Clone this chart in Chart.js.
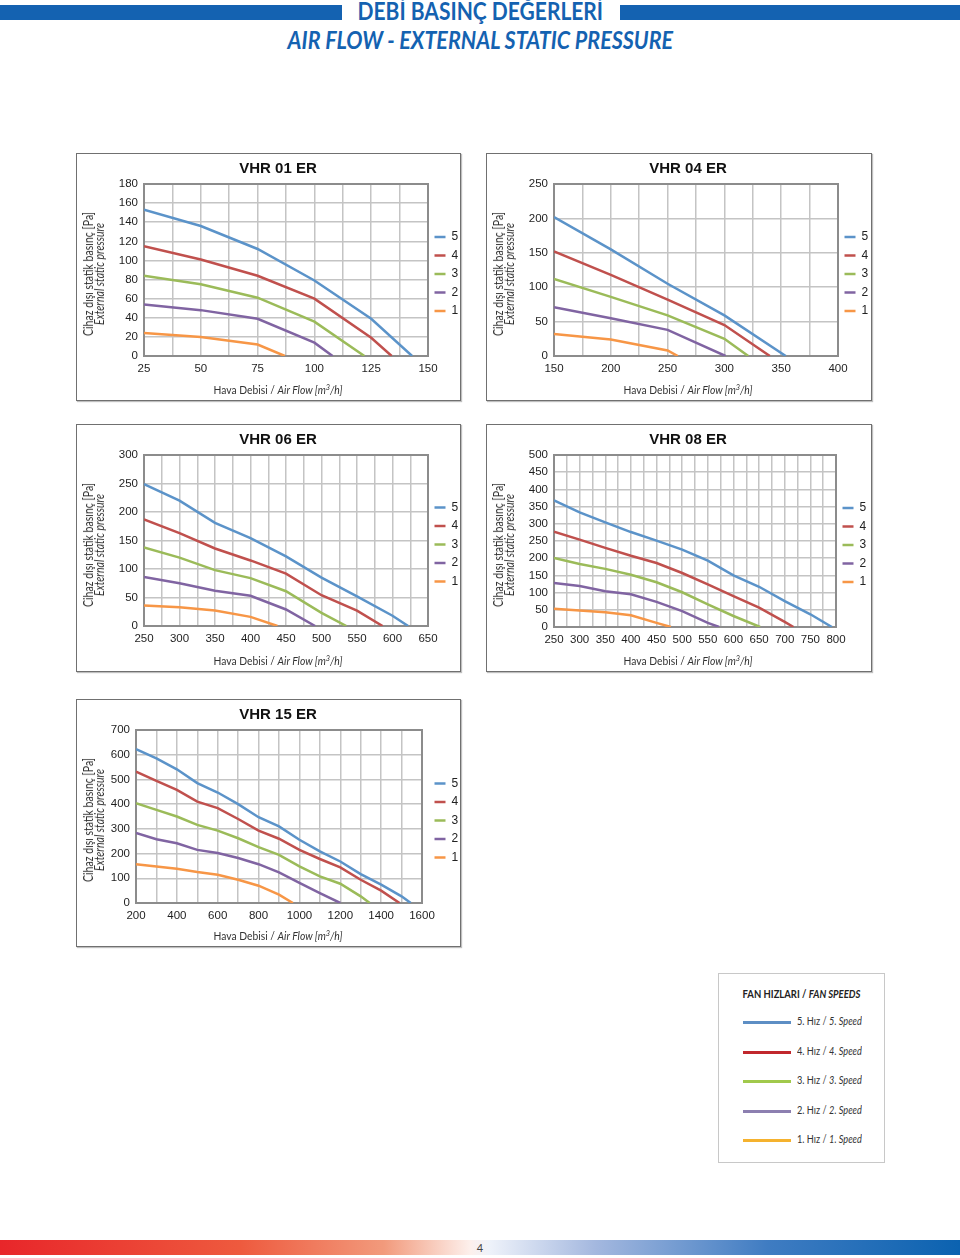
<!DOCTYPE html>
<html lang="tr">
<head>
<meta charset="utf-8">
<title>Debi Basınç Değerleri</title>
<script src="https://cdn.jsdelivr.net/npm/chart.js@4.4.1/dist/chart.umd.min.js"></script>
<style>
  body { margin: 0; background: #fff; }
  #page { position: relative; width: 960px; height: 1258px; overflow: hidden; font-family: 'Lato', 'Open Sans', sans-serif; color: #333; }
  .bar { position: absolute; top: 5px; height: 15px; background: #1462b1; }
  .head { position: absolute; left: 0; width: 960px; text-align: center; color: #1462b1; font-weight: 700; font-size: 24px; line-height: 24px; white-space: nowrap; }
  .head span { display: inline-block; }
  .box { position: absolute; width: 383px; height: 246px; border: 1px solid #707070; box-shadow: 1px 1px 1px rgba(0,0,0,.25); background: #fff; }
  .box.wide { width: 384px; }
  .box canvas { position: absolute; left: 0; top: 0; }
  .ctitle { position: absolute; left: 201px; top: 5px; line-height: 18px; font: bold 15px 'Liberation Sans', Arial, sans-serif; color: #111; white-space: nowrap; transform: translateX(-50%); }
  .ytitle { position: absolute; left: 17px; top: 120px; transform: translate(-50%, -50%) rotate(-90deg) scaleX(.845); text-align: center; white-space: nowrap; font-size: 12.5px; line-height: 11px; color: #333; }
  .xtitle { position: absolute; left: 201px; top: 228px; transform: translateX(-50%) scaleX(.86); white-space: nowrap; font-size: 12px; line-height: 16px; color: #333; }
  .xtitle sup { font-size: 8.5px; line-height: 0; vertical-align: 4px; }
  .fans { position: absolute; left: 718px; top: 973px; width: 165px; height: 188px; border: 1px solid #c8c8c8; }
  .fans .t { position: absolute; left: 0; width: 165px; top: 13px; text-align: center; font-weight: 700; font-size: 11px; line-height: 14px; color: #222; white-space: nowrap; }
  .fans .t span { display: inline-block; transform: scaleX(.86); }
  .fans .row { position: absolute; left: 24px; height: 14px; line-height: 14px; font-size: 11.5px; color: #333; white-space: nowrap; }
  .fans .row b { display: inline-block; width: 48px; height: 3px; vertical-align: middle; margin-right: 6px; }
  .fans .row span { display: inline-block; transform: scaleX(.8); transform-origin: left center; }
  .foot { position: absolute; left: 0; top: 1240px; width: 960px; height: 15px;
          background: linear-gradient(to right, #e8262a 0%, #ee5a3e 25%, #f29a7c 40%, #fdf0ec 49%, #eef2fa 51%, #a4b8df 62%, #3f7cc2 80%, #0b62b0 100%); }
  .pageno { position: absolute; left: 0; width: 960px; top: 1241px; text-align: center; font-size: 11px; line-height: 14px; color: #444; }
</style>
</head>
<body>
<div id="page">
  <div class="bar" style="left:0;width:342px"></div>
  <div class="bar" style="left:620px;width:340px"></div>
  <div class="head" style="top:-1px"><span style="transform:scaleX(.875)">DEBİ BASINÇ DEĞERLERİ</span></div>
  <div class="head" style="top:28px;font-style:italic"><span style="transform:scaleX(.895)">AIR FLOW - EXTERNAL STATIC PRESSURE</span></div>

  <div class="box" style="left:76px;top:153px">
    <canvas id="chartVhr01" width="383" height="246"></canvas>
    <div class="ctitle">VHR 01 ER</div>
    <div class="ytitle">Cihaz dışı statik basınç [Pa]<br><i>External static pressure</i></div>
    <div class="xtitle">Hava Debisi / <i>Air Flow [m<sup>3</sup>/h]</i></div>
  </div>
  <div class="box wide" style="left:486px;top:153px">
    <canvas id="chartVhr04" width="384" height="246"></canvas>
    <div class="ctitle">VHR 04 ER</div>
    <div class="ytitle">Cihaz dışı statik basınç [Pa]<br><i>External static pressure</i></div>
    <div class="xtitle">Hava Debisi / <i>Air Flow [m<sup>3</sup>/h]</i></div>
  </div>
  <div class="box" style="left:76px;top:424px">
    <canvas id="chartVhr06" width="383" height="246"></canvas>
    <div class="ctitle">VHR 06 ER</div>
    <div class="ytitle">Cihaz dışı statik basınç [Pa]<br><i>External static pressure</i></div>
    <div class="xtitle">Hava Debisi / <i>Air Flow [m<sup>3</sup>/h]</i></div>
  </div>
  <div class="box wide" style="left:486px;top:424px">
    <canvas id="chartVhr08" width="384" height="246"></canvas>
    <div class="ctitle">VHR 08 ER</div>
    <div class="ytitle">Cihaz dışı statik basınç [Pa]<br><i>External static pressure</i></div>
    <div class="xtitle">Hava Debisi / <i>Air Flow [m<sup>3</sup>/h]</i></div>
  </div>
  <div class="box" style="left:76px;top:699px">
    <canvas id="chartVhr15" width="383" height="246"></canvas>
    <div class="ctitle">VHR 15 ER</div>
    <div class="ytitle">Cihaz dışı statik basınç [Pa]<br><i>External static pressure</i></div>
    <div class="xtitle">Hava Debisi / <i>Air Flow [m<sup>3</sup>/h]</i></div>
  </div>

  <div class="fans">
    <div class="t"><span>FAN HIZLARI / <i>FAN SPEEDS</i></span></div>
    <div class="row" style="top:40px"><b style="background:#5d8ec4"></b><span>5. Hız / <i>5. Speed</i></span></div>
    <div class="row" style="top:70px"><b style="background:#c1272d"></b><span>4. Hız / <i>4. Speed</i></span></div>
    <div class="row" style="top:99px"><b style="background:#a1c94c"></b><span>3. Hız / <i>3. Speed</i></span></div>
    <div class="row" style="top:129px"><b style="background:#8c7fb0"></b><span>2. Hız / <i>2. Speed</i></span></div>
    <div class="row" style="top:158px"><b style="background:#f5b22e"></b><span>1. Hız / <i>1. Speed</i></span></div>
  </div>

  <div class="foot"></div>
  <div class="pageno">4</div>
</div>

<script>
// Fan hızları: 5 (en yüksek) ... 1
const speedNames = ['5', '4', '3', '2', '1'];
const speedColors = ['#5b93c9', '#c0504d', '#9bbb59', '#8064a2', '#f79646'];

// VHR 01 ER  (debi m3/h -> basınç Pa)
const vhr01Flow = [25, 50, 75, 100, 125];
const vhr01Speed5 = [153, 136, 112, 79, 39];
const vhr01Speed4 = [115, 101, 84, 60, 19];
const vhr01Speed3 = [84, 75, 61, 36];
const vhr01Speed2 = [54, 48, 39, 14];
const vhr01Speed1 = [24, 20, 12];
const vhr01ZeroFlow = [143, 134, 122, 108, 87]; // basıncın 0 olduğu debi, hız 5..1
const vhr01XLabels = [25, 50, 75, 100, 125, 150];
const vhr01YLabels = [0, 20, 40, 60, 80, 100, 120, 140, 160, 180];

// VHR 04 ER
const vhr04Flow = [150, 200, 250, 300];
const vhr04Speed5 = [202, 155, 105, 59];
const vhr04Speed4 = [152, 118, 82, 45];
const vhr04Speed3 = [112, 86, 59, 25];
const vhr04Speed2 = [71, 55, 38];
const vhr04Speed1 = [32, 24, 8];
const vhr04ZeroFlow = [354, 340, 321, 301, 259];
const vhr04XLabels = [150, 200, 250, 300, 350, 400];
const vhr04YLabels = [0, 50, 100, 150, 200, 250];

// VHR 06 ER
const vhr06Flow = [250, 300, 350, 400, 450, 500, 550, 600];
const vhr06Speed5 = [249, 220, 181, 154, 122, 85, 52, 18];
const vhr06Speed4 = [187, 163, 136, 115, 92, 54, 27];
const vhr06Speed3 = [138, 120, 98, 84, 61, 23];
const vhr06Speed2 = [86, 75, 62, 53, 29];
const vhr06Speed1 = [36, 33, 27, 16];
const vhr06ZeroFlow = [622, 586, 535, 491, 438];
const vhr06XLabels = [250, 300, 350, 400, 450, 500, 550, 600, 650];
const vhr06YLabels = [0, 50, 100, 150, 200, 250, 300];

// VHR 08 ER
const vhr08Flow = [250, 300, 350, 400, 450, 500, 550, 600, 650, 700, 750];
const vhr08Speed5 = [368, 333, 304, 276, 251, 225, 193, 150, 117, 75, 37];
const vhr08Speed4 = [277, 254, 230, 207, 186, 157, 124, 90, 56, 15];
const vhr08Speed3 = [201, 183, 169, 152, 130, 101, 66, 32];
const vhr08Speed2 = [128, 119, 104, 95, 73, 46, 12];
const vhr08Speed1 = [53, 48, 43, 34, 12];
const vhr08ZeroFlow = [792, 717, 652, 572, 478];
const vhr08XLabels = [250, 300, 350, 400, 450, 500, 550, 600, 650, 700, 750, 800];
const vhr08YLabels = [0, 50, 100, 150, 200, 250, 300, 350, 400, 450, 500];

// VHR 15 ER
const vhr15Flow = [200, 300, 400, 500, 600, 700, 800, 900, 1000, 1100, 1200, 1300, 1400, 1500];
const vhr15Speed5 = [623, 585, 541, 485, 447, 400, 347, 310, 256, 209, 168, 117, 74, 27];
const vhr15Speed4 = [532, 494, 458, 410, 384, 340, 293, 260, 215, 178, 144, 94, 50];
const vhr15Speed3 = [404, 377, 350, 316, 293, 262, 226, 195, 148, 108, 78, 27];
const vhr15Speed2 = [283, 258, 242, 215, 202, 182, 157, 124, 81, 40];
const vhr15Speed1 = [157, 148, 139, 125, 114, 94, 70, 34];
const vhr15ZeroFlow = [1545, 1490, 1344, 1200, 968];
const vhr15XLabels = [200, 400, 600, 800, 1000, 1200, 1400, 1600];
const vhr15YLabels = [0, 100, 200, 300, 400, 500, 600, 700];

const tickFont = { family: "'Liberation Sans', Arial, sans-serif", size: 11.5 };

// Grafik alanının çerçevesi (gri kenar)
const plotFrame = {
    id: 'plotFrame',
    beforeDatasetsDraw(chart) {
        const { ctx, chartArea: a } = chart;
        ctx.save();
        ctx.strokeStyle = '#8c8c8c';
        ctx.lineWidth = 2;
        ctx.strokeRect(a.left, a.top, a.right - a.left, a.bottom - a.top);
        ctx.restore();
    }
};

function drawChart(canvasId, flow, speeds, zeroFlow, xLabels, xStep, yLabels, pad) {
    const canvas = document.getElementById(canvasId);

    const datasets = speeds.map((values, i) => ({
        label: speedNames[i],
        data: values.map((v, k) => ({ x: flow[k], y: v })).concat([{ x: zeroFlow[i], y: 0 }]),
        borderColor: speedColors[i],
        backgroundColor: speedColors[i],
        borderWidth: 2.5,
        pointRadius: 0,
        pointStyle: 'line',
        tension: 0,
        fill: false
    }));

    const scales = {
        x: {
            type: 'linear',
            min: xLabels[0],
            max: xLabels[xLabels.length - 1],
            border: { display: false },
            grid: { color: '#c4c4c4', lineWidth: 1.5, drawTicks: false },
            ticks: {
                stepSize: xStep,
                autoSkip: false,
                maxRotation: 0,
                padding: 6,
                color: '#1e1e1e',
                font: tickFont,
                callback: (value) => xLabels.includes(value) ? String(value) : ''
            },
            afterFit: (scale) => { scale.height = 22; }
        },
        y: {
            type: 'linear',
            min: yLabels[0],
            max: yLabels[yLabels.length - 1],
            border: { display: false },
            grid: { color: '#c4c4c4', lineWidth: 1.5, drawTicks: false },
            ticks: {
                stepSize: yLabels[1] - yLabels[0],
                padding: 6,
                color: '#1e1e1e',
                font: tickFont
            },
            afterFit: (scale) => { scale.width = 30; }
        }
    };

    // lejant ile grafik alanı arasında ek boşluk (boş, görünmez eksen)
    if (pad.legendGap) {
        scales.gap = {
            type: 'linear',
            position: 'right',
            grid: { display: false },
            border: { display: false },
            ticks: { display: false },
            afterFit: (scale) => { scale.width = pad.legendGap; }
        };
    }

    const config = {
        type: 'line',
        data: { datasets: datasets },
        options: {
            responsive: false,
            animation: false,
            events: [],
            layout: { padding: { left: pad.left, right: pad.right, top: 30, bottom: pad.bottom } },
            plugins: {
                tooltip: { enabled: false },
                legend: {
                    position: 'right',
                    fullSize: false,
                    maxWidth: 30,
                    title: { display: true, text: ' ', font: { size: 5 }, padding: 1 },
                    labels: {
                        usePointStyle: true,
                        pointStyleWidth: 11,
                        padding: 6.5,
                        color: '#222',
                        font: { family: "'Liberation Sans', Arial, sans-serif", size: 12 }
                    }
                }
            },
            scales: scales
        },
        plugins: [plotFrame]
    };

    return new Chart(canvas, config);
}

drawChart('chartVhr01', vhr01Flow,
    [vhr01Speed5, vhr01Speed4, vhr01Speed3, vhr01Speed2, vhr01Speed1],
    vhr01ZeroFlow, vhr01XLabels, 12.5, vhr01YLabels, { left: 37, right: 2, bottom: 22 });

drawChart('chartVhr04', vhr04Flow,
    [vhr04Speed5, vhr04Speed4, vhr04Speed3, vhr04Speed2, vhr04Speed1],
    vhr04ZeroFlow, vhr04XLabels, 25, vhr04YLabels, { left: 37, right: 3, bottom: 22 });

drawChart('chartVhr06', vhr06Flow,
    [vhr06Speed5, vhr06Speed4, vhr06Speed3, vhr06Speed2, vhr06Speed1],
    vhr06ZeroFlow, vhr06XLabels, 25, vhr06YLabels, { left: 37, right: 2, bottom: 23 });

drawChart('chartVhr08', vhr08Flow,
    [vhr08Speed5, vhr08Speed4, vhr08Speed3, vhr08Speed2, vhr08Speed1],
    vhr08ZeroFlow, vhr08XLabels, 25, vhr08YLabels, { left: 37, right: 5, bottom: 22 });

drawChart('chartVhr15', vhr15Flow,
    [vhr15Speed5, vhr15Speed4, vhr15Speed3, vhr15Speed2, vhr15Speed1],
    vhr15ZeroFlow, vhr15XLabels, 100, vhr15YLabels, { left: 29, right: 2, bottom: 21, legendGap: 6 });
</script>
</body>
</html>
